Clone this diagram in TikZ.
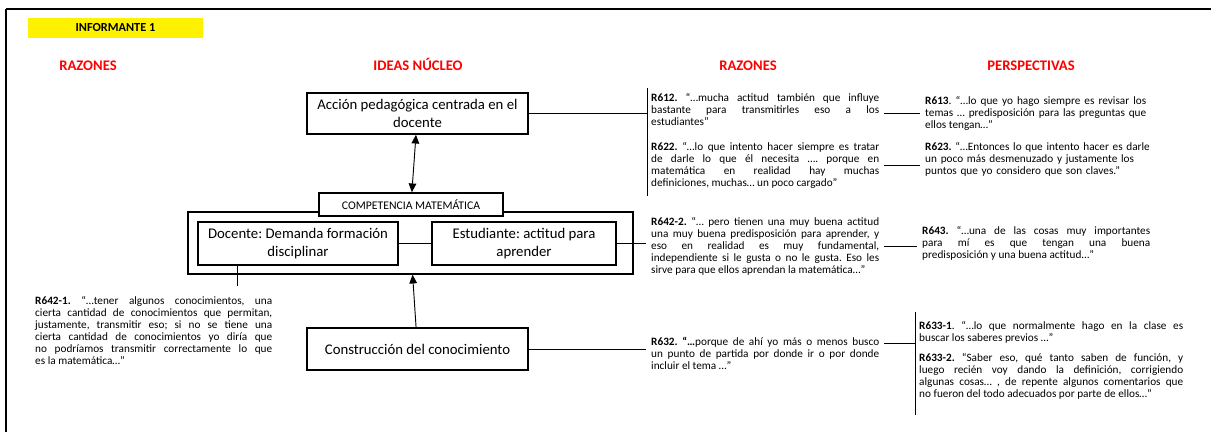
\documentclass[tikz,border=0pt]{standalone}
\usepackage{fontspec}
\setmainfont{Carlito}
\usetikzlibrary{arrows.meta,positioning}

\begin{document}
\frenchspacing
\begin{tikzpicture}[
    x=0.03cm, y=-0.03cm,
    idea/.style={draw=black, line width=1.3pt, fill=white, align=center, inner sep=0pt,
        font=\fontsize{12.6}{15.4}\selectfont},
    quote/.style={anchor=north west, inner xsep=0.15cm, inner ysep=0pt, align=justify,
        font=\fontsize{9.6}{10.25}\selectfont},
    head/.style={anchor=base, text=red, font=\fontsize{12.5}{14}\selectfont\bfseries},
    edge/.style={-, line width=0.8pt},
    arr/.style={line width=0.8pt, -{Triangle[length=7.5pt,width=6.5pt]}}
]
    \useasboundingbox (0,0) rectangle (1211,432);

    % marco de la hoja
    \draw[line width=0.9pt] (6,9) -- (1211,9);
    \draw[line width=2pt] (6,9) -- (6,432);

    \node[fill=yellow, minimum width=5.25cm, minimum height=0.6cm,
        font=\fontsize{10.5}{12}\selectfont\bfseries] (inf) at (115.5,28) {INFORMANTE 1};

    % encabezados
    \node[head] (hraz1) at (88,70.5) {RAZONES};
    \node[head] (hideas) at (418,70.5) {IDEAS NÚCLEO};
    \node[head] (hraz2) at (748,70.5) {RAZONES};
    \node[head] (hpers) at (1031,70.5) {PERSPECTIVAS};

    % ideas nucleo
    \node[idea, minimum width=6.63cm, minimum height=1.23cm] (accion) at (417.5,113.5)
        {Acción pedagógica centrada en el\\docente};
    \node[draw, line width=1.1pt, minimum width=13.35cm, minimum height=1.86cm] (marco) at (410.5,243) {};
    \node[idea, minimum width=5.52cm, minimum height=0.69cm,
        font=\fontsize{10}{12}\selectfont] (comp) at (411,204.5) {COMPETENCIA MATEMÁTICA};
    \node[idea, minimum width=6cm, minimum height=1.29cm] (docente) at (298,243.5)
        {Docente: Demanda formación\\disciplinar};
    \node[idea, minimum width=5.52cm, minimum height=1.29cm] (estud) at (524,243.5)
        {Estudiante: actitud para\\aprender};
    \node[idea, minimum width=6.63cm, minimum height=1.26cm] (constr) at (417.5,349)
        {Construcción del conocimiento};

    \draw[arr, {Triangle[length=7.5pt,width=6.5pt]}-{Triangle[length=7.5pt,width=6.5pt]}] (accion) -- (comp);
    \draw[arr] (constr) -- (marco);
    \draw[edge] (docente) -- (estud);

    % razones
    \node[quote, text width=6.84cm] (r612) at (646,93)
        {\textbf{R612.} “…mucha actitud también que influye\linebreak
        bastante para transmitirles eso a los\linebreak
        estudiantes”};
    \node[quote, text width=6.84cm] (r622) at (646,142)
        {\textbf{R622.} “…lo que intento hacer siempre es tratar\linebreak
        de darle lo que él necesita …. porque en\linebreak
        matemática en realidad hay muchas\linebreak
        definiciones, muchas… un poco cargado”};
    \node[quote, text width=6.84cm] (r6422) at (646,217)
        {\textbf{R642-2.} “… pero tienen una muy buena actitud\linebreak
        una muy buena predisposición para aprender, y\linebreak
        eso en realidad es muy fundamental,\linebreak
        independiente si le gusta o no le gusta. Eso les\linebreak
        sirve para que ellos aprendan la matemática…”};
    \node[quote, text width=6.84cm] (r632) at (646,337)
        {\textbf{R632. “…}porque de ahí yo más o menos busco\linebreak
        un punto de partida por donde ir o por donde\linebreak
        incluir el tema …”};
    \node[quote, text width=7.11cm] (r6421) at (30,296)
        {\textbf{R642-1.} “…tener algunos conocimientos, una\linebreak
        cierta cantidad de conocimientos que permitan,\linebreak
        justamente, transmitir eso; si no se tiene una\linebreak
        cierta cantidad de conocimientos yo diría que\linebreak
        no podríamos transmitir correctamente lo que\linebreak
        es la matemática…”};

    % perspectivas
    \node[quote, text width=6.63cm] (r613) at (920,96)
        {\textbf{R613}. “…lo que yo hago siempre es revisar los\linebreak
        temas … predisposición para las preguntas que\linebreak
        ellos tengan…”};
    \node[quote, text width=7.2cm, align=left] (r623) at (920,142)
        {\textbf{R623.} “…Entonces lo que intento hacer es darle\\
        un poco más desmenuzado y justamente los\\
        puntos que yo considero que son claves.”};
    \node[quote, text width=6.84cm] (r643) at (917,226)
        {\textbf{R643.} “…una de las cosas muy importantes\linebreak
        para mí es que tengan una buena\linebreak
        predisposición y una buena actitud…”};
    \node[quote, text width=7.92cm] (r6331) at (914,321)
        {\textbf{R633-1}. “…lo que normalmente hago en la clase es\linebreak
        buscar los saberes previos …”};
    \node[quote, text width=7.92cm] (r6332) at (914,353)
        {\textbf{R633-2.} “Saber eso, qué tanto saben de función, y\linebreak
        luego recién voy dando la definición, corrigiendo\linebreak
        algunas cosas… , de repente algunos comentarios que\linebreak
        no fueron del todo adecuados por parte de ellos…”};

    % conectores
    \coordinate (b1top) at (647,88);
    \coordinate (b1bot) at (647,196);
    \coordinate (b2top) at (915,312);
    \coordinate (b2bot) at (915,415);
    \coordinate (dpie) at (237,286);
    \draw[edge] (b1top) -- (b1bot);
    \draw[edge] (b2top) -- (b2bot);
    \draw[edge] (accion.east) -- (accion.east -| b1top);
    \draw[edge] (r613.west -| r612.east) -- (r613.west);
    \draw[edge] (r622.east) -- (r622.east -| r623.west);
    \draw[edge] (estud.east) -- (estud.east -| r6422.west);
    \draw[edge] (r6422.east) -- (r6422.east -| r643.west);
    \draw[edge] (constr.east) -- (constr.east -| r632.west);
    \draw[edge] ([yshift=-0.2cm]r632.north east) -- ([yshift=-0.2cm]r632.north east -| b2top);
    \draw[edge] (dpie |- docente.south) -- (dpie);
\end{tikzpicture}
\end{document}
